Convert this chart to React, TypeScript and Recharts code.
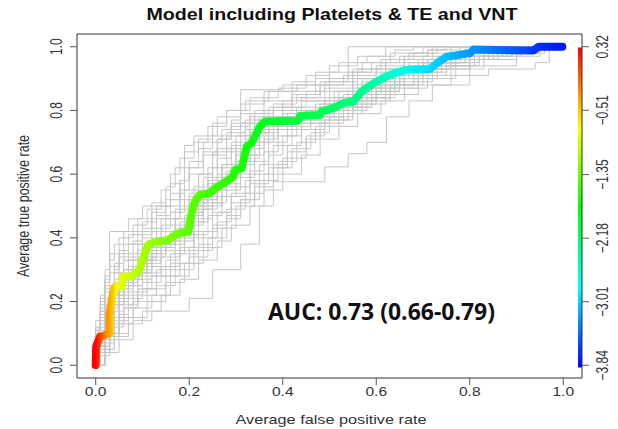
import React from 'react';
import { LineChart, Line, XAxis, YAxis, ReferenceArea } from 'recharts';

// averaged ROC curve (vertical averaging)
const meanFpr = [0, 0.001, 0.009, 0.019, 0.03, 0.03, 0.034, 0.041, 0.055, 0.059, 0.073, 0.091, 0.098, 0.112, 0.123, 0.155, 0.176, 0.198, 0.205, 0.212, 0.223, 0.244, 0.255, 0.273, 0.294, 0.298, 0.312, 0.323, 0.333, 0.351, 0.362, 0.433, 0.437, 0.48, 0.483, 0.508, 0.53, 0.551, 0.569, 0.583, 0.601, 0.622, 0.651, 0.665, 0.715, 0.73, 0.751, 0.801, 0.808, 0.936, 0.947, 0.998];
const meanTpr = [0, 0.058, 0.089, 0.094, 0.1, 0.163, 0.204, 0.246, 0.248, 0.278, 0.278, 0.293, 0.32, 0.377, 0.385, 0.393, 0.414, 0.419, 0.477, 0.514, 0.535, 0.54, 0.555, 0.571, 0.592, 0.613, 0.618, 0.686, 0.697, 0.749, 0.765, 0.768, 0.783, 0.786, 0.797, 0.807, 0.823, 0.828, 0.859, 0.875, 0.891, 0.907, 0.922, 0.928, 0.93, 0.949, 0.969, 0.98, 0.991, 0.988, 1, 1];

// colour of the averaged curve along the false positive rate (cutoff colouring)
const meanStopAt = [0, 0.01, 0.02, 0.035, 0.045, 0.07, 0.1, 0.15, 0.2, 0.3, 0.36, 0.48, 0.55, 0.6, 0.65, 0.7, 0.75, 0.8, 0.9, 0.95, 1];
const meanStopColor = ['#ff0000', '#ff4000', '#ff8000', '#ffbf00', '#f0ff00', '#ccff00', '#aaff00', '#80ff00', '#5cff00', '#20ff00', '#00ff20', '#00ff50', '#00ff80', '#00ffaa', '#00ffe0', '#00e8ff', '#00bfff', '#0099ff', '#0055ff', '#0030ff', '#0015ff'];

// colour key
const cutoffTicks = [0.32, -0.51, -1.35, -2.18, -3.01, -3.84];
const keyStopAt = [0, 0.25, 0.5, 0.75, 1];
const keyStopColor = ['#ff0000', '#ffff00', '#00ff00', '#00ffff', '#0000ff'];

const rateTicks = [0, 0.2, 0.4, 0.6, 0.8, 1];

// bootstrap ROC curves: [fpr, tpr] where the step rises
const boot01 = [[0, 0], [0.005, 0.12], [0.01, 0.2], [0.02, 0.3], [0.03, 0.42], [0.07, 0.46], [0.1, 0.5], [0.16, 0.54], [0.19, 0.69], [0.21, 0.72], [0.26, 0.78], [0.31, 0.865], [0.4, 0.88], [0.47, 0.9], [0.54, 1], [1, 1]];
const boot02 = [[0, 0], [0.02, 0.04], [0.05, 0.08], [0.08, 0.14], [0.12, 0.17], [0.2, 0.21], [0.25, 0.3], [0.31, 0.38], [0.35, 0.5], [0.38, 0.576], [0.49, 0.623], [0.54, 0.664], [0.58, 0.7], [0.622, 0.78], [0.67, 0.83], [0.72, 0.88], [0.8, 0.94], [0.9, 0.97], [0.95, 1], [1, 1]];
const boot03 = [[0, 0], [0.01, 0.1], [0.03, 0.18], [0.04, 0.26], [0.06, 0.3], [0.09, 0.36], [0.13, 0.4], [0.17, 0.44], [0.2, 0.5], [0.24, 0.56], [0.27, 0.62], [0.3, 0.68], [0.33, 0.74], [0.38, 0.77], [0.45, 0.8], [0.52, 0.84], [0.58, 0.88], [0.64, 0.92], [0.7, 0.95], [0.78, 0.98], [0.85, 1], [1, 1]];
const boot04 = [[0, 0], [0, 0.06], [0.02, 0.14], [0.03, 0.22], [0.05, 0.28], [0.07, 0.34], [0.1, 0.4], [0.14, 0.46], [0.18, 0.52], [0.22, 0.6], [0.25, 0.66], [0.28, 0.72], [0.31, 0.76], [0.36, 0.8], [0.42, 0.84], [0.48, 0.88], [0.55, 0.92], [0.62, 0.95], [0.7, 0.97], [0.76, 1], [1, 1]];
const boot05 = [[0, 0], [0.01, 0.06], [0.03, 0.12], [0.06, 0.18], [0.09, 0.24], [0.13, 0.3], [0.17, 0.36], [0.21, 0.42], [0.25, 0.48], [0.29, 0.54], [0.33, 0.6], [0.37, 0.66], [0.4, 0.72], [0.44, 0.76], [0.5, 0.8], [0.56, 0.84], [0.62, 0.88], [0.68, 0.92], [0.74, 0.95], [0.8, 0.97], [0.88, 0.99], [0.93, 1], [1, 1]];
const boot06 = [[0, 0], [0.01, 0.08], [0.02, 0.16], [0.04, 0.24], [0.06, 0.27], [0.1, 0.32], [0.12, 0.38], [0.15, 0.42], [0.19, 0.47], [0.22, 0.52], [0.26, 0.58], [0.29, 0.63], [0.32, 0.7], [0.35, 0.76], [0.4, 0.79], [0.47, 0.82], [0.52, 0.86], [0.57, 0.9], [0.63, 0.93], [0.71, 0.96], [0.79, 0.99], [0.86, 1], [1, 1]];
const boot07 = [[0, 0], [0.02, 0.05], [0.04, 0.1], [0.07, 0.15], [0.11, 0.2], [0.15, 0.26], [0.19, 0.32], [0.23, 0.37], [0.27, 0.43], [0.3, 0.5], [0.34, 0.56], [0.38, 0.62], [0.42, 0.68], [0.46, 0.73], [0.5, 0.77], [0.55, 0.82], [0.6, 0.86], [0.65, 0.9], [0.7, 0.93], [0.76, 0.96], [0.84, 0.98], [0.94, 1], [1, 1]];
const boot08 = [[0, 0], [0, 0.1], [0.01, 0.18], [0.02, 0.25], [0.04, 0.32], [0.06, 0.38], [0.09, 0.42], [0.12, 0.48], [0.15, 0.52], [0.18, 0.58], [0.2, 0.64], [0.23, 0.7], [0.27, 0.74], [0.31, 0.79], [0.36, 0.83], [0.42, 0.86], [0.49, 0.89], [0.56, 0.93], [0.62, 0.96], [0.68, 0.98], [0.73, 1], [1, 1]];
const boot09 = [[0, 0], [0.01, 0.04], [0.02, 0.12], [0.04, 0.2], [0.07, 0.25], [0.1, 0.29], [0.14, 0.34], [0.18, 0.39], [0.21, 0.45], [0.23, 0.51], [0.27, 0.55], [0.31, 0.59], [0.34, 0.64], [0.37, 0.7], [0.41, 0.75], [0.46, 0.78], [0.53, 0.81], [0.59, 0.85], [0.66, 0.89], [0.72, 0.93], [0.8, 0.96], [0.9, 0.98], [0.96, 1], [1, 1]];
const boot10 = [[0, 0], [0, 0.08], [0.01, 0.15], [0.03, 0.2], [0.05, 0.26], [0.08, 0.31], [0.11, 0.37], [0.14, 0.4], [0.17, 0.46], [0.2, 0.53], [0.24, 0.58], [0.26, 0.65], [0.29, 0.7], [0.33, 0.73], [0.37, 0.78], [0.43, 0.81], [0.49, 0.84], [0.55, 0.87], [0.61, 0.91], [0.67, 0.94], [0.74, 0.97], [0.82, 1], [1, 1]];
const boot11 = [[0, 0], [0, 0.14], [0.01, 0.22], [0.02, 0.28], [0.03, 0.35], [0.05, 0.4], [0.08, 0.44], [0.11, 0.49], [0.14, 0.55], [0.16, 0.6], [0.18, 0.65], [0.21, 0.7], [0.24, 0.75], [0.28, 0.8], [0.33, 0.84], [0.39, 0.87], [0.45, 0.91], [0.5, 0.94], [0.56, 0.97], [0.62, 1], [1, 1]];
const boot12 = [[0, 0], [0.01, 0.03], [0.03, 0.08], [0.05, 0.13], [0.08, 0.18], [0.12, 0.22], [0.16, 0.28], [0.2, 0.34], [0.24, 0.4], [0.28, 0.46], [0.31, 0.52], [0.35, 0.58], [0.39, 0.64], [0.43, 0.7], [0.47, 0.75], [0.52, 0.79], [0.57, 0.83], [0.63, 0.87], [0.69, 0.91], [0.75, 0.94], [0.81, 0.97], [0.89, 0.99], [0.95, 1], [1, 1]];
const boot13 = [[0, 0], [0.01, 0.07], [0.02, 0.13], [0.03, 0.2], [0.05, 0.23], [0.08, 0.28], [0.1, 0.34], [0.13, 0.37], [0.16, 0.41], [0.19, 0.44], [0.21, 0.49], [0.25, 0.53], [0.28, 0.57], [0.31, 0.63], [0.34, 0.68], [0.36, 0.72], [0.39, 0.76], [0.44, 0.79], [0.5, 0.82], [0.55, 0.85], [0.6, 0.89], [0.66, 0.92], [0.72, 0.95], [0.79, 0.98], [0.87, 1], [1, 1]];
const boot14 = [[0, 0], [0, 0.05], [0.01, 0.11], [0.02, 0.17], [0.03, 0.23], [0.05, 0.29], [0.07, 0.33], [0.1, 0.38], [0.13, 0.43], [0.16, 0.48], [0.19, 0.55], [0.22, 0.6], [0.25, 0.67], [0.28, 0.73], [0.32, 0.77], [0.37, 0.81], [0.42, 0.85], [0.47, 0.88], [0.53, 0.91], [0.6, 0.94], [0.66, 0.97], [0.71, 0.99], [0.78, 1], [1, 1]];
const boot15 = [[0, 0], [0.02, 0.07], [0.04, 0.13], [0.06, 0.18], [0.09, 0.22], [0.13, 0.25], [0.17, 0.3], [0.21, 0.36], [0.25, 0.44], [0.28, 0.49], [0.32, 0.54], [0.36, 0.6], [0.4, 0.65], [0.45, 0.71], [0.48, 0.76], [0.53, 0.8], [0.58, 0.84], [0.63, 0.88], [0.68, 0.9], [0.73, 0.94], [0.8, 0.96], [0.86, 0.98], [0.92, 1], [1, 1]];
const boot16 = [[0, 0], [0.01, 0.09], [0.02, 0.16], [0.04, 0.22], [0.06, 0.26], [0.09, 0.3], [0.12, 0.35], [0.15, 0.39], [0.18, 0.43], [0.21, 0.48], [0.23, 0.54], [0.26, 0.6], [0.3, 0.66], [0.32, 0.71], [0.35, 0.75], [0.4, 0.78], [0.46, 0.8], [0.51, 0.83], [0.56, 0.87], [0.61, 0.9], [0.68, 0.93], [0.75, 0.96], [0.83, 0.98], [0.9, 1], [1, 1]];
const boot17 = [[0, 0], [0.01, 0.05], [0.03, 0.1], [0.05, 0.16], [0.07, 0.21], [0.1, 0.26], [0.14, 0.31], [0.18, 0.35], [0.22, 0.4], [0.26, 0.45], [0.29, 0.51], [0.33, 0.57], [0.37, 0.62], [0.41, 0.67], [0.45, 0.72], [0.49, 0.78], [0.55, 0.82], [0.62, 0.85], [0.69, 0.88], [0.76, 0.91], [0.84, 0.93], [0.94, 0.95], [0.97, 1], [1, 1]];
const boot18 = [[0, 0], [0, 0.09], [0.01, 0.17], [0.02, 0.24], [0.04, 0.3], [0.05, 0.36], [0.07, 0.41], [0.1, 0.45], [0.13, 0.5], [0.16, 0.57], [0.19, 0.62], [0.22, 0.68], [0.25, 0.72], [0.29, 0.77], [0.31, 0.82], [0.36, 0.86], [0.43, 0.88], [0.5, 0.92], [0.57, 0.95], [0.63, 0.98], [0.7, 1], [1, 1]];
const boot19 = [[0, 0], [0.01, 0.06], [0.02, 0.1], [0.04, 0.17], [0.06, 0.22], [0.09, 0.27], [0.12, 0.31], [0.16, 0.35], [0.19, 0.4], [0.22, 0.46], [0.25, 0.51], [0.28, 0.59], [0.31, 0.65], [0.35, 0.7], [0.38, 0.74], [0.42, 0.77], [0.48, 0.8], [0.54, 0.83], [0.6, 0.86], [0.65, 0.9], [0.71, 0.93], [0.77, 0.96], [0.85, 0.99], [0.91, 1], [1, 1]];
const boot20 = [[0, 0], [0.01, 0.08], [0.03, 0.15], [0.05, 0.21], [0.07, 0.27], [0.1, 0.33], [0.13, 0.38], [0.17, 0.42], [0.2, 0.47], [0.23, 0.52], [0.26, 0.57], [0.29, 0.61], [0.32, 0.66], [0.35, 0.73], [0.39, 0.77], [0.45, 0.8], [0.5, 0.84], [0.55, 0.88], [0.61, 0.92], [0.67, 0.95], [0.73, 0.97], [0.8, 0.99], [0.86, 1], [1, 1]];
const boot21 = [[0, 0], [0, 0.04], [0.01, 0.12], [0.03, 0.19], [0.05, 0.25], [0.08, 0.29], [0.11, 0.33], [0.14, 0.37], [0.17, 0.42], [0.2, 0.49], [0.22, 0.55], [0.25, 0.62], [0.28, 0.67], [0.31, 0.72], [0.34, 0.77], [0.38, 0.8], [0.44, 0.83], [0.5, 0.86], [0.56, 0.9], [0.62, 0.93], [0.69, 0.96], [0.76, 0.98], [0.81, 1], [1, 1]];
const boot22 = [[0, 0], [0.02, 0.06], [0.03, 0.14], [0.05, 0.19], [0.08, 0.23], [0.11, 0.28], [0.15, 0.33], [0.18, 0.37], [0.21, 0.41], [0.24, 0.47], [0.27, 0.53], [0.3, 0.56], [0.33, 0.61], [0.36, 0.67], [0.39, 0.72], [0.43, 0.76], [0.48, 0.79], [0.53, 0.83], [0.59, 0.87], [0.64, 0.91], [0.7, 0.94], [0.77, 0.97], [0.86, 0.99], [0.92, 1], [1, 1]];
const boot23 = [[0, 0], [0, 0.07], [0.01, 0.14], [0.02, 0.21], [0.04, 0.27], [0.07, 0.31], [0.1, 0.36], [0.13, 0.4], [0.17, 0.43], [0.2, 0.47], [0.22, 0.52], [0.25, 0.57], [0.28, 0.61], [0.31, 0.67], [0.33, 0.72], [0.36, 0.76], [0.41, 0.79], [0.47, 0.81], [0.52, 0.84], [0.57, 0.87], [0.62, 0.91], [0.68, 0.94], [0.74, 0.97], [0.83, 0.99], [0.9, 1], [1, 1]];
const boot24 = [[0, 0], [0.01, 0.05], [0.02, 0.09], [0.03, 0.15], [0.05, 0.2], [0.06, 0.25], [0.09, 0.29], [0.12, 0.34], [0.15, 0.38], [0.19, 0.41], [0.22, 0.45], [0.24, 0.5], [0.27, 0.56], [0.3, 0.6], [0.33, 0.66], [0.36, 0.71], [0.39, 0.74], [0.44, 0.77], [0.5, 0.8], [0.55, 0.83], [0.6, 0.87], [0.65, 0.91], [0.7, 0.93], [0.76, 0.96], [0.83, 0.98], [0.89, 1], [1, 1]];
const boot25 = [[0, 0], [0, 0.09], [0.01, 0.16], [0.03, 0.23], [0.04, 0.29], [0.06, 0.33], [0.09, 0.38], [0.12, 0.42], [0.15, 0.46], [0.18, 0.5], [0.21, 0.56], [0.24, 0.62], [0.26, 0.68], [0.3, 0.72], [0.33, 0.78], [0.38, 0.81], [0.44, 0.84], [0.49, 0.87], [0.55, 0.9], [0.6, 0.93], [0.66, 0.96], [0.72, 0.98], [0.79, 1], [1, 1]];
const boot26 = [[0, 0], [0.01, 0.04], [0.03, 0.09], [0.05, 0.14], [0.07, 0.19], [0.09, 0.24], [0.12, 0.28], [0.16, 0.32], [0.2, 0.37], [0.23, 0.42], [0.26, 0.48], [0.29, 0.53], [0.32, 0.58], [0.35, 0.63], [0.38, 0.69], [0.42, 0.74], [0.46, 0.78], [0.51, 0.81], [0.57, 0.84], [0.63, 0.88], [0.69, 0.92], [0.75, 0.95], [0.82, 0.97], [0.91, 0.99], [0.97, 1], [1, 1]];
const boot27 = [[0, 0], [0, 0.11], [0.01, 0.19], [0.02, 0.26], [0.03, 0.31], [0.05, 0.35], [0.08, 0.39], [0.1, 0.43], [0.13, 0.47], [0.16, 0.52], [0.18, 0.58], [0.2, 0.62], [0.23, 0.67], [0.26, 0.71], [0.29, 0.75], [0.33, 0.79], [0.38, 0.82], [0.43, 0.85], [0.48, 0.89], [0.54, 0.92], [0.59, 0.95], [0.65, 0.97], [0.71, 0.99], [0.75, 1], [1, 1]];
const boot28 = [[0, 0], [0.01, 0.07], [0.02, 0.14], [0.04, 0.19], [0.06, 0.24], [0.08, 0.28], [0.11, 0.32], [0.14, 0.36], [0.17, 0.4], [0.2, 0.44], [0.23, 0.49], [0.26, 0.55], [0.28, 0.6], [0.31, 0.64], [0.34, 0.7], [0.37, 0.75], [0.42, 0.78], [0.48, 0.82], [0.53, 0.85], [0.58, 0.88], [0.64, 0.91], [0.7, 0.95], [0.77, 0.97], [0.84, 0.99], [0.88, 1], [1, 1]];
const boot29 = [[0, 0], [0.02, 0.05], [0.04, 0.09], [0.07, 0.13], [0.1, 0.17], [0.14, 0.22], [0.18, 0.27], [0.22, 0.33], [0.26, 0.39], [0.29, 0.44], [0.33, 0.5], [0.36, 0.55], [0.4, 0.6], [0.44, 0.66], [0.48, 0.71], [0.52, 0.75], [0.56, 0.79], [0.61, 0.83], [0.66, 0.87], [0.71, 0.9], [0.77, 0.93], [0.83, 0.96], [0.9, 0.98], [0.95, 1], [1, 1]];
const boot30 = [[0, 0], [0, 0.12], [0.01, 0.21], [0.02, 0.27], [0.03, 0.33], [0.04, 0.38], [0.06, 0.42], [0.09, 0.46], [0.12, 0.51], [0.15, 0.56], [0.17, 0.62], [0.19, 0.67], [0.22, 0.71], [0.25, 0.76], [0.28, 0.8], [0.32, 0.83], [0.37, 0.86], [0.42, 0.89], [0.47, 0.92], [0.52, 0.95], [0.58, 0.97], [0.64, 0.99], [0.68, 1], [1, 1]];
const boot31 = [[0, 0], [0.01, 0.06], [0.02, 0.11], [0.03, 0.18], [0.05, 0.24], [0.07, 0.29], [0.1, 0.33], [0.13, 0.37], [0.16, 0.42], [0.19, 0.46], [0.22, 0.5], [0.25, 0.55], [0.27, 0.59], [0.3, 0.64], [0.33, 0.69], [0.35, 0.74], [0.39, 0.77], [0.45, 0.79], [0.51, 0.81], [0.56, 0.85], [0.61, 0.88], [0.66, 0.92], [0.72, 0.95], [0.79, 0.97], [0.87, 0.99], [0.93, 1], [1, 1]];
const boot32 = [[0, 0], [0, 0.06], [0.01, 0.13], [0.02, 0.19], [0.04, 0.25], [0.06, 0.3], [0.08, 0.35], [0.11, 0.39], [0.14, 0.44], [0.17, 0.49], [0.2, 0.54], [0.23, 0.59], [0.27, 0.63], [0.29, 0.69], [0.32, 0.74], [0.35, 0.78], [0.4, 0.81], [0.45, 0.83], [0.51, 0.86], [0.57, 0.89], [0.63, 0.92], [0.69, 0.95], [0.76, 0.98], [0.84, 1], [1, 1]];
const boot33 = [[0, 0], [0.01, 0.04], [0.03, 0.1], [0.05, 0.15], [0.08, 0.2], [0.11, 0.24], [0.15, 0.28], [0.18, 0.32], [0.22, 0.38], [0.25, 0.43], [0.28, 0.47], [0.31, 0.52], [0.34, 0.58], [0.38, 0.63], [0.41, 0.69], [0.44, 0.74], [0.49, 0.77], [0.54, 0.81], [0.59, 0.84], [0.64, 0.88], [0.7, 0.91], [0.76, 0.94], [0.82, 0.97], [0.89, 0.99], [0.94, 1], [1, 1]];
const boot34 = [[0, 0], [0.01, 0.09], [0.02, 0.15], [0.03, 0.21], [0.05, 0.27], [0.08, 0.3], [0.11, 0.35], [0.14, 0.39], [0.18, 0.42], [0.21, 0.48], [0.23, 0.53], [0.26, 0.58], [0.29, 0.62], [0.32, 0.68], [0.34, 0.73], [0.37, 0.77], [0.43, 0.8], [0.49, 0.83], [0.54, 0.86], [0.59, 0.89], [0.65, 0.93], [0.71, 0.96], [0.78, 0.98], [0.85, 1], [1, 1]];
const boot35 = [[0, 0], [0, 0.03], [0.01, 0.09], [0.03, 0.16], [0.04, 0.22], [0.06, 0.26], [0.09, 0.31], [0.12, 0.36], [0.15, 0.4], [0.18, 0.45], [0.21, 0.51], [0.24, 0.57], [0.27, 0.63], [0.3, 0.69], [0.34, 0.75], [0.39, 0.78], [0.46, 0.8], [0.51, 0.82], [0.56, 0.86], [0.61, 0.9], [0.67, 0.93], [0.73, 0.96], [0.8, 0.98], [0.87, 1], [1, 1]];
const boot36 = [[0, 0], [0, 0.08], [0.01, 0.17], [0.02, 0.23], [0.03, 0.29], [0.05, 0.34], [0.07, 0.38], [0.1, 0.41], [0.12, 0.46], [0.15, 0.5], [0.18, 0.55], [0.2, 0.6], [0.23, 0.66], [0.26, 0.71], [0.29, 0.76], [0.34, 0.8], [0.4, 0.83], [0.45, 0.86], [0.5, 0.9], [0.55, 0.93], [0.61, 0.96], [0.67, 0.98], [0.72, 1], [1, 1]];

const bootCurves = [
  boot01, boot02, boot03, boot04, boot05, boot06, boot07, boot08, boot09, boot10, boot11, boot12,
  boot13, boot14, boot15, boot16, boot17, boot18, boot19, boot20, boot21, boot22, boot23, boot24,
  boot25, boot26, boot27, boot28, boot29, boot30, boot31, boot32, boot33, boot34, boot35, boot36,
];

const meanData = meanFpr.map((x, i) => ({ x, y: meanTpr[i] }));

const FONT = '"Liberation Sans", Arial, Helvetica, sans-serif';
const SX = 1.3; // the reference is stretched horizontally

const XTick = (props: any) => {
  const { x, y, payload } = props;
  return (
    <text transform={`translate(${x},${y}) scale(${SX},1)`} textAnchor="middle" dy="0.71em" fontSize={12} fill="#333" fontFamily={FONT}>
      {Number(payload.value).toFixed(1)}
    </text>
  );
};

const YTick = (props: any) => {
  const { x, y, payload } = props;
  return (
    <text transform={`translate(${x},${y}) scale(${SX},1) rotate(-90)`} textAnchor="middle" fontSize={12} fill="#333" fontFamily={FONT}>
      {Number(payload.value).toFixed(1)}
    </text>
  );
};

const KeyTick = (props: any) => {
  const { x, y, payload } = props;
  return (
    <text transform={`translate(${x},${y}) scale(${SX},1) rotate(-90)`} textAnchor="middle" fontSize={12} fill="#333" fontFamily={FONT}>
      {Number(payload.value).toFixed(2).replace('-', '\u2212')}
    </text>
  );
};

const App: React.FC = () => {
  return (
    <div style={{ position: 'absolute', left: 0, top: 0, width: 618, height: 429, background: '#fff' }}>
      <LineChart width={618} height={429} margin={{ top: 34, right: 0, bottom: 21, left: 37 }}>
        <defs>
          <linearGradient id="meanGrad" x1="0" y1="0" x2="1" y2="0">
            {meanStopAt.map((o, i) => (
              <stop key={i} offset={o} stopColor={meanStopColor[i]} />
            ))}
          </linearGradient>
          <linearGradient id="keyGrad" x1="0" y1="0" x2="0" y2="1">
            {keyStopAt.map((o, i) => (
              <stop key={i} offset={o} stopColor={keyStopColor[i]} />
            ))}
          </linearGradient>
        </defs>
        <XAxis
          type="number"
          dataKey="x"
          domain={[-0.04, 1.04]}
          ticks={rateTicks}
          interval={0}
          tick={<XTick />}
          tickSize={7}
          tickMargin={2}
          tickLine={{ stroke: '#555' }}
          axisLine={false}
          height={30}
          allowDataOverflow
        />
        <YAxis
          type="number"
          domain={[-0.04, 1.04]}
          ticks={rateTicks}
          interval={0}
          tick={<YTick />}
          tickSize={7}
          tickMargin={8}
          tickLine={{ stroke: '#555' }}
          axisLine={false}
          width={40}
          allowDataOverflow
        />
        <YAxis
          yAxisId="cb"
          orientation="right"
          type="number"
          domain={[-4.0064, 0.4864]}
          ticks={cutoffTicks}
          interval={0}
          tick={<KeyTick />}
          tickSize={7}
          tickMargin={19}
          tickLine={{ stroke: '#555' }}
          axisLine={false}
          width={36}
          allowDataOverflow
        />
        {bootCurves.map((c, i) => (
          <Line
            key={i}
            data={c.map(([x, y]) => ({ x, y }))}
            dataKey="y"
            type="stepAfter"
            stroke="#c6c6c6"
            strokeWidth={1}
            dot={false}
            activeDot={false}
            isAnimationActive={false}
          />
        ))}
        <Line
          data={meanData}
          dataKey="y"
          type="linear"
          stroke="url(#meanGrad)"
          strokeWidth={8}
          strokeLinecap="round"
          strokeLinejoin="round"
          dot={false}
          activeDot={false}
          isAnimationActive={false}
        />
        <ReferenceArea yAxisId="cb" x1={1.0315} x2={1.04} y1={-3.87} y2={0.31} fill="url(#keyGrad)" fillOpacity={1} stroke="none" ifOverflow="visible" />
        <ReferenceArea x1={-0.04} x2={1.04} y1={-0.04} y2={1.04} fill="none" stroke="#333" strokeWidth={1} ifOverflow="visible" />
      </LineChart>
      <svg width={618} height={429} style={{ position: 'absolute', left: 0, top: 0, pointerEvents: 'none' }}>
        <text x={332} y={20} textAnchor="middle" fontSize={17} fontWeight="bold" fontFamily={FONT} fill="#111" textLength={371} lengthAdjust="spacingAndGlyphs">
          Model including Platelets &amp; TE and VNT
        </text>
        <text transform={`translate(331,424) scale(${SX},1)`} textAnchor="middle" fontSize={12.5} fontFamily={FONT} fill="#333">
          Average false positive rate
        </text>
        <text transform={`translate(29,206) scale(${SX},1) rotate(-90)`} textAnchor="middle" fontSize={12.5} fontFamily={FONT} fill="#333">
          Average true positive rate
        </text>
        <text x={268} y={320} fontSize={24} fontWeight="bold" fontFamily='"Open Sans", "DejaVu Sans", sans-serif' fill="#111" textLength={227} lengthAdjust="spacingAndGlyphs">
          AUC: 0.73 (0.66-0.79)
        </text>
      </svg>
    </div>
  );
};

export default App;
